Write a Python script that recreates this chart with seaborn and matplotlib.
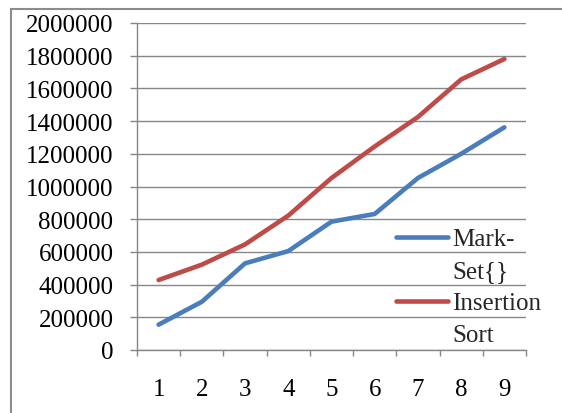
import matplotlib
matplotlib.use("Agg")
import matplotlib.pyplot as plt
from matplotlib.lines import Line2D
from matplotlib.patches import Rectangle
import seaborn as sns
import pandas as pd

# Run index (1..9) and measured times for each sorting approach
runs = [1, 2, 3, 4, 5, 6, 7, 8, 9]
mark_set = [155000, 295000, 530000, 605000, 785000, 832000, 1052000, 1200000, 1362000]
insertion_sort = [428000, 522000, 646000, 822000, 1052000, 1245000, 1425000, 1655000, 1780000]
series_names = ["Mark-Set{}", "Insertion Sort"]
legend_lines = [["Mark-", "Set{}"], ["Insertion", "Sort"]]
y_ticks = list(range(0, 2000001, 200000))

colors = ["#4A7EBB", "#BE4B48"]
grid_gray = "#878787"

df = pd.DataFrame({
    "run": runs * 2,
    "time": mark_set + insertion_sort,
    "series": [series_names[0]] * len(runs) + [series_names[1]] * len(runs),
})

sns.set_theme(style="white")
plt.rcParams["font.family"] = ["Liberation Serif", "DejaVu Serif"]

fig = plt.figure(figsize=(5.62, 4.14), dpi=100)
ax = fig.add_axes([137 / 562, 1 - 351 / 414, (526 - 137) / 562, (351 - 24) / 414])

# outer chart border
fig.patches.append(Rectangle((11 / 562, -0.05), 1.2, 1 - 10 / 414 + 0.05,
                             transform=fig.transFigure, fill=False,
                             edgecolor="#8c8c8c", linewidth=1.5))

sns.lineplot(data=df, x="run", y="time", hue="series", palette=colors,
             linewidth=3.3, ax=ax, legend=False, solid_capstyle="round")

ax.set_xlim(0.5, 9.5)
ax.set_ylim(0, 2000000)
ax.set_yticks(y_ticks)
ax.set_yticklabels([str(v) for v in y_ticks])
ax.set_xticks(runs)
ax.set_xticklabels([str(r) for r in runs])
ax.set_xticks([r + 0.5 for r in [0] + runs], minor=True)
ax.set_xlabel("")
ax.set_ylabel("")

ax.yaxis.grid(True, color=grid_gray, linewidth=1.0)
ax.set_axisbelow(True)
for side in ["top", "right"]:
    ax.spines[side].set_visible(False)
for side in ["left", "bottom"]:
    ax.spines[side].set_color(grid_gray)
    ax.spines[side].set_linewidth(1.0)

ax.tick_params(axis="y", which="major", length=5, width=1.0, color=grid_gray,
               pad=12, labelsize=18, labelcolor="black", left=True)
ax.tick_params(axis="x", which="major", length=0, pad=20, labelsize=18,
               labelcolor="black")
ax.tick_params(axis="x", which="minor", length=4, width=1.0, color=grid_gray,
               bottom=True)

handles, labels = [], []
for color, lines in zip(colors, legend_lines):
    handles.append(Line2D([], [], color=color, linewidth=3.3))
    labels.append(lines[0])
    handles.append(Line2D([], [], color="none"))
    labels.append(lines[1])

fig.legend(handles, labels, loc="upper left",
           bbox_to_anchor=(396 / 562, 1 - 229 / 414), frameon=False,
           fontsize=18, handlelength=2.08, handletextpad=0.18,
           labelspacing=0.38, borderpad=0, borderaxespad=0)

fig.savefig("out.png", dpi=100)
